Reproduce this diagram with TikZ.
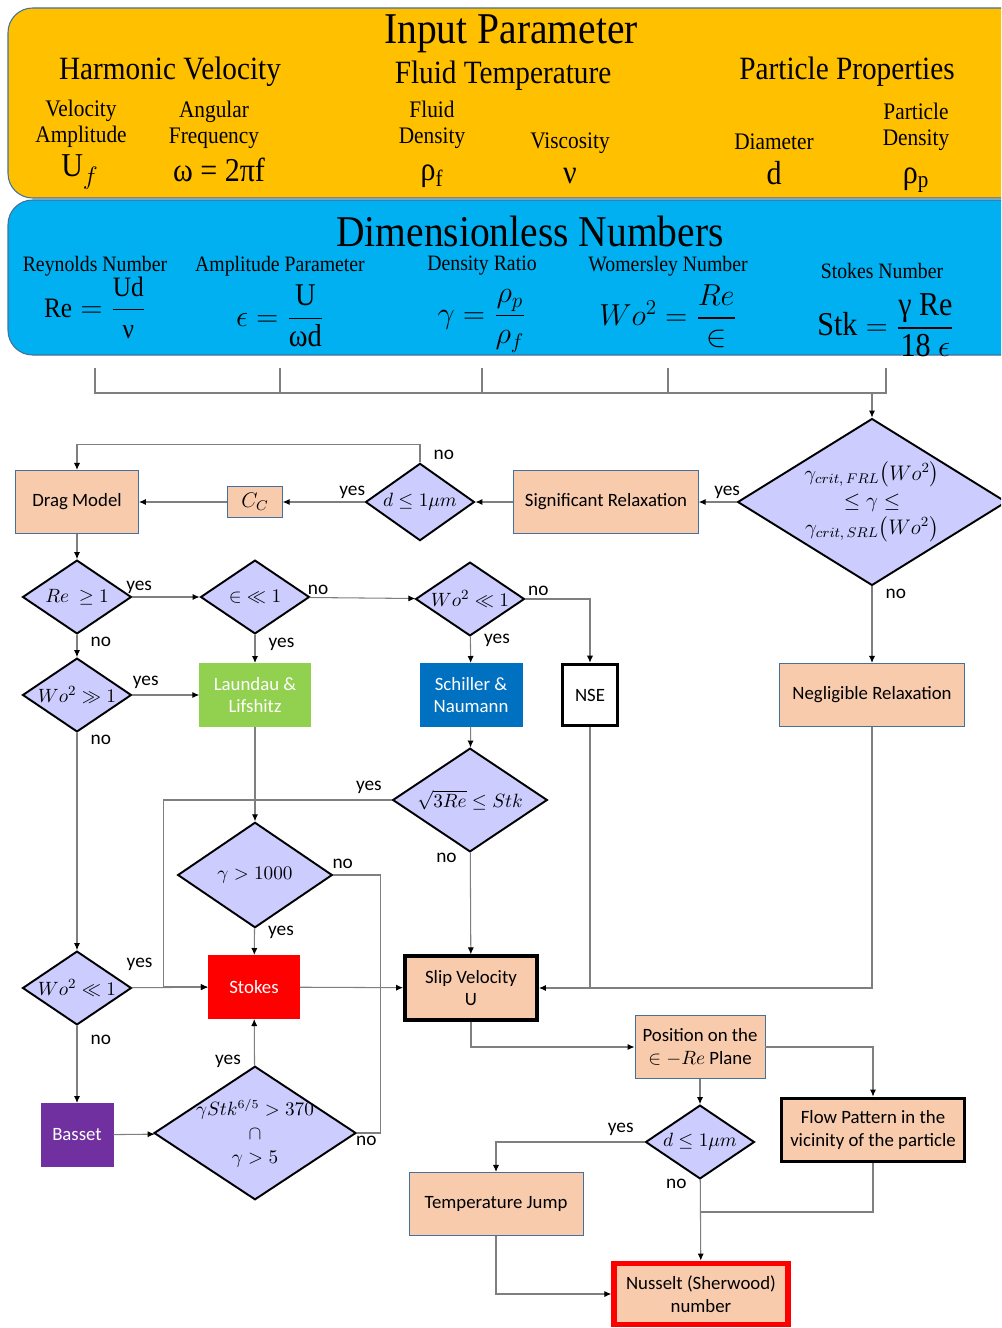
\documentclass[tikz,border=0pt]{standalone}
\usepackage{amsmath}
\usepackage{fontspec}
\setmainfont{Carlito}
\newfontfamily\hdfont[FakeStretch=0.9]{Liberation Serif}
\usetikzlibrary{arrows.meta, positioning, shapes.geometric}
\definecolor{MyGold}{HTML}{FFC000}
\definecolor{MySky}{HTML}{00B0F0}
\definecolor{MyPeach}{HTML}{F8CBAD}
\definecolor{MyEdge}{HTML}{41719C}
\definecolor{MyLilac}{HTML}{CCCCFF}
\definecolor{MyGreen}{HTML}{92D050}
\definecolor{MyBlue}{HTML}{0070C0}
\definecolor{MyPurple}{HTML}{7030A0}
\definecolor{MyLine}{HTML}{7F7F7F}
\tikzset{
	box/.style={draw=MyEdge, line width=0.5pt, fill=MyPeach, align=center, inner sep=2pt},
	cond/.style={diamond, aspect=1.5, draw=black, line width=1.1pt, fill=MyLilac, inner sep=-4pt, align=center, font=\fontsize{11}{13.6}\selectfont},
	conn/.style={MyLine, line width=0.6pt, -{Latex[length=4pt, width=3.5pt, color=black]}},
	link/.style={MyLine, line width=0.6pt},
	ans/.style={text=black, font=\fontsize{11}{12}\selectfont, inner sep=1.5pt},
	title/.style={font=\hdfont\fontsize{25}{28}\selectfont},
	group/.style={font=\hdfont\fontsize{18.5}{22}\selectfont},
	sub/.style={font=\hdfont\fontsize{13.5}{15}\selectfont, align=center},
	lab/.style={font=\hdfont\fontsize{12.5}{14}\selectfont},
	sym/.style={font=\hdfont\fontsize{19}{22}\selectfont},
}

\begin{document}
\begin{tikzpicture}[x=0.02cm, y=-0.02cm, every node/.style={font=\fontsize{10.7}{13}\selectfont}]
	\useasboundingbox (0,0) rectangle (1001,1328);
	\clip (0,0) rectangle (1001,1328);
	
	% input parameters
	\draw[MyEdge, fill=MyGold, rounded corners=14pt, line width=0.6pt] (8,8) rectangle (1040,198);
	\node[title] (inp) at (511,34) {Input Parameter};
	\node[group] (harm) at (170,72) {Harmonic Velocity};
	\node[group] (fltemp) at (503,76) {Fluid Temperature};
	\node[group] (ppro) at (847,72) {Particle Properties};
	\node[sub] (vamp) at (81,124) {Velocity\\Amplitude};
	\node[sub] (angf) at (214,125) {Angular\\Frequency};
	\node[sub] (flden) at (432,125) {Fluid\\Density};
	\node[sub] (visc) at (570,143) {Viscosity};
	\node[sub] (diam) at (774,142) {Diameter};
	\node[sub] (pden) at (916,127) {Particle\\Density};
	\node[sym] (uf) at (80,172) {U$_f$};
	\node[sym] (omg) at (219,170) {ω = 2πf};
	\node[sym] (rhof) at (432,176) {ρ\textsubscript{f}};
	\node[sym] (nu) at (570,176) {ν};
	\node[sym] (dd) at (774,173) {d};
	\node[sym] (rhop) at (916,180) {ρ\textsubscript{p}};
	
	% dimensionless numbers
	\draw[MyEdge, fill=MySky, rounded corners=14pt, line width=0.6pt] (8,200) rectangle (1040,355);
	\node[title] (dimn) at (530,231) {Dimensionless Numbers};
	\node[lab] (reyn) at (95,266) {Reynolds Number};
	\node[lab] (ampp) at (280,266) {Amplitude Parameter};
	\node[lab] (dens) at (482,266) {Density Ratio};
	\node[lab] (wome) at (668,266) {Womersley Number};
	\node[lab] (stok) at (882,271) {Stokes Number};
	\node[sym, font=\hdfont\fontsize{16}{19}\selectfont] (fre) at (95,308) {$\text{Re} = \dfrac{\text{Ud}}{\text{ν}}$};
	\node[sym, font=\hdfont\fontsize{18}{21}\selectfont] (feps) at (280,316) {$\epsilon = \dfrac{\text{U}}{\text{ωd}}$};
	\node[sym, font=\hdfont\fontsize{18}{21}\selectfont] (fgam) at (482,321) {$\gamma = \dfrac{\rho_p}{\rho_f}$};
	\node[sym, font=\hdfont\fontsize{18}{21}\selectfont] (fwo) at (668,316) {$Wo^2 = \dfrac{Re}{\in}$};
	\node[sym] (fstk) at (886,325) {$\text{Stk} = \dfrac{\text{γ Re}}{\text{18 }\epsilon}$};
	
	\coordinate (t1) at (95,368);
	\coordinate (t2) at (280,368);
	\coordinate (t3) at (482,368);
	\coordinate (t4) at (668,368);
	\coordinate (t5) at (886,368);
	\coordinate (bus) at (872,393);
	\draw[link] (t1) -- ++(0,25) -| (t5);
	\draw[link] (t2) -- ++(0,25);
	\draw[link] (t3) -- ++(0,25);
	\draw[link] (t4) -- ++(0,25);
	
	% relaxation
	\node[cond, font=\fontsize{12}{15.5}\selectfont, minimum width=153pt, minimum height=95pt] (crit) at (872,502) {$\gamma_{crit,\,FRL}\bigl(Wo^2\bigr)$\\$\le\gamma\le$\\$\gamma_{crit,\,SRL}\bigl(Wo^2\bigr)$};
	\node[box, minimum width=105pt, minimum height=36pt] (sigrel) at (606,502) {Significant Relaxation};
	\node[cond, minimum width=62pt, minimum height=44pt] (dmu) at (420,502) {$d\le 1\mu m$};
	\node[box, minimum width=31pt, minimum height=18pt, font=\fontsize{12}{14}\selectfont] (cc) at (255,502) {$C_C$};
	\node[box, minimum width=70pt, minimum height=36pt] (drag) at (77,502) {Drag Model};
	\node[box, minimum width=105pt, minimum height=36pt] (negl) at (872,695) {Negligible Relaxation};
	
	% drag models
	\node[cond, minimum width=62pt, minimum height=42pt] (re1) at (77,597) {$Re\ \ge 1$};
	\node[cond, minimum width=62pt, minimum height=42pt] (eps) at (255,597) {${\in}\ll 1$};
	\node[cond, minimum width=62pt, minimum height=42pt] (wo1) at (470,599) {$Wo^2\ll 1$};
	\node[cond, minimum width=62pt, minimum height=42pt] (wo2) at (77,695) {$Wo^2\gg 1$};
	\node[draw=MyGreen, fill=MyGreen, text=white, align=center, minimum width=63pt, minimum height=36pt] (laun) at (255,695) {Laundau \&\\Lifshitz};
	\node[draw=MyBlue, fill=MyBlue, text=white, align=center, minimum width=58pt, minimum height=36pt] (schil) at (471,695) {Schiller \&\\Naumann};
	\node[draw=black, line width=1.7pt, fill=white, minimum width=31pt, minimum height=35pt] (nse) at (590,695) {NSE};
	\node[cond, minimum width=88pt, minimum height=59pt] (sq3) at (470,800) {$\sqrt{3Re}\le Stk$};
	\node[cond, minimum width=88pt, minimum height=60pt] (g1000) at (255,875) {$\gamma > 1000$};
	\node[cond, minimum width=62pt, minimum height=42pt] (wo3) at (77,988) {$Wo^2\ll 1$};
	\node[draw=red, fill=red, text=white, minimum width=52pt, minimum height=36pt] (stokes) at (254,987) {Stokes};
	\node[box, draw=black, line width=2.3pt, minimum width=75pt, minimum height=36pt] (slip) at (471,988) {Slip Velocity\\U};
	\node[draw=MyPurple, fill=MyPurple, text=white, minimum width=41pt, minimum height=36pt] (basset) at (77,1135) {Basset};
	\node[cond, font=\fontsize{10.5}{13.6}\selectfont, minimum width=115pt, minimum height=76pt] (gstk) at (255,1133) {$\gamma Stk^{6/5} > 370$\\$\cap$\\$\gamma > 5$};
	
	% heat transfer
	\node[box, minimum width=74pt, minimum height=36pt] (pos) at (700,1047) {Position on the\\$\in -Re$ Plane};
	\node[cond, minimum width=62pt, minimum height=42pt] (dmu2) at (700,1142) {$d\le 1\mu m$};
	\node[box, draw=black, line width=2pt, minimum width=104pt, minimum height=36pt] (flow) at (873,1130) {Flow Pattern in the\\vicinity of the particle};
	\node[box, minimum width=99pt, minimum height=36pt] (tjump) at (496,1204) {Temperature Jump};
	\node[box, draw=red, line width=3pt, minimum width=99pt, minimum height=35pt] (nuss) at (701,1294) {Nusselt (Sherwood)\\number};
	\coordinate (mrg) at (700,1212);
	
	% connectors
	\draw[conn] (bus) -- (crit);
	\draw[conn] (crit) -- (sigrel) node[ans, pos=0.25, above] {yes};
	\draw[conn] (sigrel) -- (dmu);
	\draw[conn] (dmu) -- (cc) node[ans, pos=0.15, above] {yes};
	\draw[conn] (cc) -- (drag);
	\draw[conn] (dmu.north) -- ++(0,-18) node[ans, pos=0.4, right, xshift=6pt] {no} -| (drag.north);
	\draw[conn] (crit) -- (negl) node[ans, pos=0.1, right, xshift=6pt] {no};
	\draw[conn] (drag) -- (re1);
	\draw[conn] (re1) -- (eps) node[ans, pos=0.1, above] {yes};
	\draw[conn] (eps) -- (wo1) node[ans, pos=0.08, above] {no};
	\draw[conn] (wo1.east) -| (nse.north) node[ans, pos=0.1, above] {no};
	\draw[conn] (wo1) -- (schil) node[ans, pos=0.15, right, xshift=6pt] {yes};
	\draw[conn] (eps) -- (laun) node[ans, pos=0.35, right, xshift=6pt] {yes};
	\draw[conn] (re1) -- (wo2) node[ans, pos=0.3, right, xshift=6pt] {no};
	\draw[conn] (wo2) -- (laun) node[ans, pos=0.2, above, yshift=2pt] {yes};
	\draw[conn] (wo2) -- (wo3) node[ans, pos=0.03, right, xshift=6pt] {no};
	\draw[conn] (negl) |- (slip);
	\draw[link] (nse) -- (nse|-slip);
	\draw[conn] (schil) -- (sq3);
	\draw[conn] (sq3) -- (slip) node[ans, pos=0.05, left, xshift=-6pt] {no};
	\draw[conn] (sq3.west) -- ++(-228,0) node[ans, pos=0.1, above, yshift=2pt] {yes} |- (stokes);
	\draw[conn] (wo3) -- (stokes) node[ans, pos=0.1, above, yshift=8pt] {yes};
	\draw[conn] (laun) -- (g1000);
	\draw[conn] (g1000) -- (stokes) node[ans, pos=0.15, right, xshift=6pt] {yes};
	\draw[conn] (stokes) -- (slip);
	\draw[link] (g1000.east) -- ++(47,0) node[ans, pos=0.2, above, yshift=2pt] {no} |- (gstk.east) node[ans, pos=0.8, below] {no};
	\draw[conn] (wo3) -- (basset) node[ans, pos=0.18, right, xshift=6pt] {no};
	\draw[conn] (basset) -- (gstk);
	\draw[conn] (gstk) -- (stokes) node[ans, pos=0.1, left, xshift=-6pt] {yes};
	\draw[conn] (slip) |- (pos);
	\draw[conn] (pos) -| (flow);
	\draw[conn] (pos) -- (dmu2);
	\draw[conn] (dmu2) -| (tjump) node[ans, pos=0.08, above, yshift=2pt] {yes};
	\draw[conn] (dmu2) -- (nuss) node[ans, pos=0.05, left, xshift=-6pt] {no};
	\draw[link] (flow) |- (mrg);
	\draw[conn] (tjump) |- (nuss);
\end{tikzpicture}
\end{document}
